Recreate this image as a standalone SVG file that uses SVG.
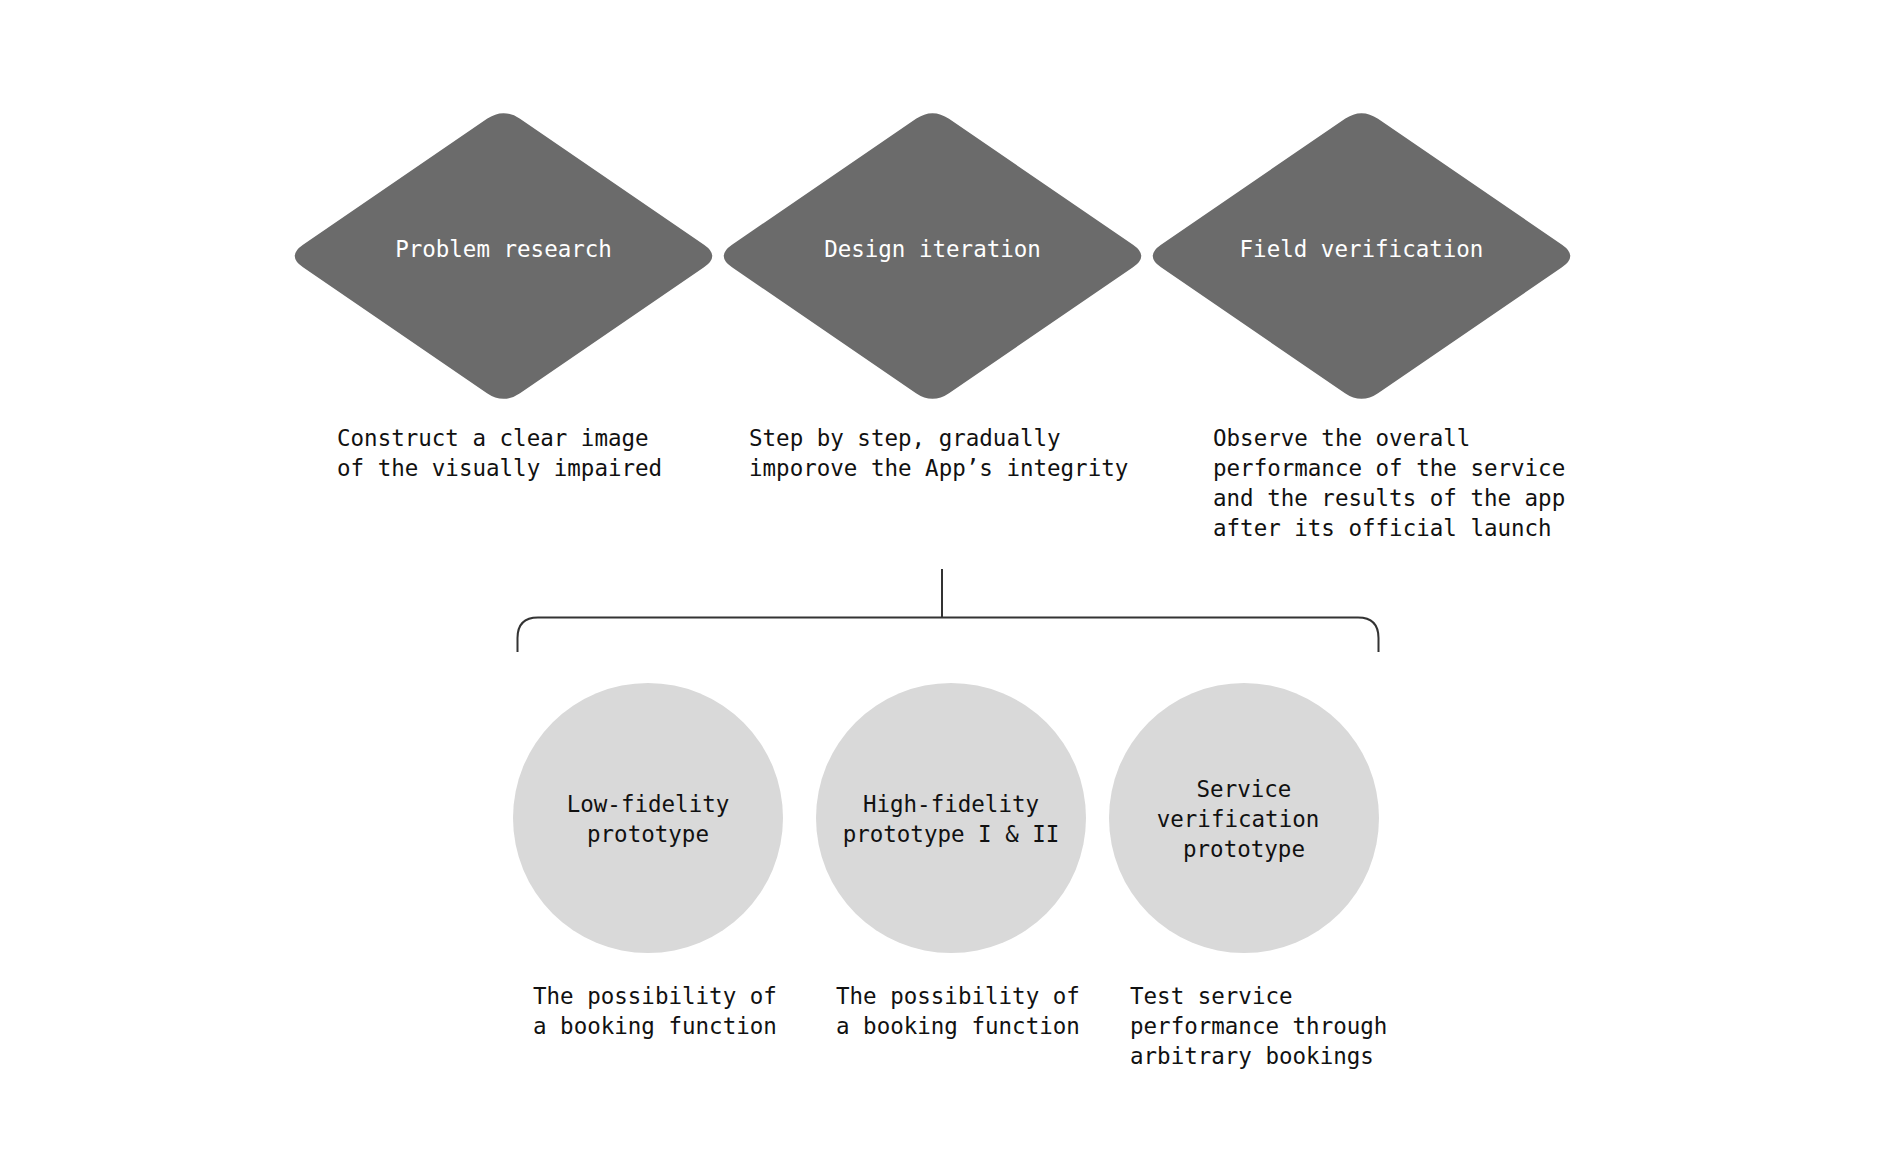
<svg xmlns="http://www.w3.org/2000/svg" width="1897" height="1176" viewBox="0 0 1897 1176">
<style>
text{font-family:"DejaVu Sans Mono","Liberation Mono",monospace;font-size:22.5px;}
.dt{fill:#ffffff;text-anchor:middle;}
.ct{fill:#111111;text-anchor:middle;}
.desc{fill:#111111;}
.dia{fill:#6b6b6b;}
.circ{fill:#d9d9d9;}
.con{fill:none;stroke:#333333;stroke-width:2;}
</style>
<defs>
<path id="diamond" d="M -16.5,-137.2 Q 0,-148.5 16.5,-137.2 L 200.5,-11.3 Q 217,0 200.5,11.3 L 16.5,137.2 Q 0,148.5 -16.5,137.2 L -200.5,11.3 Q -217,0 -200.5,-11.3 Z"/>
</defs>
<rect width="1897" height="1176" fill="#ffffff"/>

<g id="node-problem-research">
<use href="#diamond" class="dia" transform="translate(503.5,256)"/>
<text class="dt" x="503.5" y="257">Problem research</text>
</g>
<g id="node-design-iteration">
<use href="#diamond" class="dia" transform="translate(932.5,256)"/>
<text class="dt" x="932.5" y="257">Design iteration</text>
</g>
<g id="node-field-verification">
<use href="#diamond" class="dia" transform="translate(1361.5,256)"/>
<text class="dt" x="1361.5" y="257">Field verification</text>
</g>

<g id="desc-problem-research">
<text class="desc" x="337" y="446">Construct a clear image</text>
<text class="desc" x="337" y="476">of the visually impaired</text>
</g>
<g id="desc-design-iteration">
<text class="desc" x="749" y="446">Step by step, gradually</text>
<text class="desc" x="749" y="476">imporove the App’s integrity</text>
</g>
<g id="desc-field-verification">
<text class="desc" x="1213" y="446">Observe the overall</text>
<text class="desc" x="1213" y="476">performance of the service</text>
<text class="desc" x="1213" y="506">and the results of the app</text>
<text class="desc" x="1213" y="536">after its official launch</text>
</g>

<g id="connectors">
<path class="con" d="M 942,569 L 942,617"/>
<path class="con" d="M 517.5,652 L 517.5,638 Q 517.5,617.5 538,617.5 L 1358,617.5 Q 1378.5,617.5 1378.5,638 L 1378.5,652"/>
</g>

<g id="node-low-fidelity">
<circle class="circ" cx="648" cy="818" r="135"/>
<text class="ct" x="648" y="812">Low-fidelity</text>
<text class="ct" x="648" y="842">prototype</text>
</g>
<g id="node-high-fidelity">
<circle class="circ" cx="951" cy="818" r="135"/>
<text class="ct" x="951" y="812">High-fidelity</text>
<text class="ct" x="951" y="842">prototype I &amp; II</text>
</g>
<g id="node-service-verification">
<circle class="circ" cx="1244" cy="818" r="135"/>
<text class="ct" x="1244" y="797">Service</text>
<text class="ct" x="1238" y="827">verification</text>
<text class="ct" x="1244" y="857">prototype</text>
</g>

<g id="desc-low-fidelity">
<text class="desc" x="533" y="1004">The possibility of</text>
<text class="desc" x="533" y="1034">a booking function</text>
</g>
<g id="desc-high-fidelity">
<text class="desc" x="836" y="1004">The possibility of</text>
<text class="desc" x="836" y="1034">a booking function</text>
</g>
<g id="desc-service-verification">
<text class="desc" x="1130" y="1004">Test service</text>
<text class="desc" x="1130" y="1034">performance through</text>
<text class="desc" x="1130" y="1064">arbitrary bookings</text>
</g>
</svg>
